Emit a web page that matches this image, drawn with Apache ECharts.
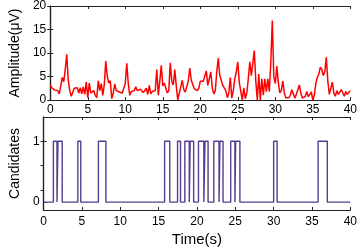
<!DOCTYPE html>
<html>
<head>
<meta charset="utf-8">
<script src="https://cdn.jsdelivr.net/npm/echarts@6/dist/echarts.min.js"></script>
<style>
  html, body { margin: 0; padding: 0; background: #fff; }
  #main { width: 360px; height: 251px; }
</style>
</head>
<body>
<div id="main"></div>
<script>
// amplitude samples, one every 0.2 s from 0 to 40 s
var sampleStep = 0.2;
var amplitude = [
  3.2, 2.6, 2.2, 2.1, 2.0, 2.0, 1.3, 3.0, 4.8, 3.9,
  6.5, 9.7, 4.2, 2.0, 0.8, 0.4, 2.5, 2.7, 2.6, 1.5,
  2.6, 1.3, 2.8, 1.2, 3.8, 0.5, 3.6, 1.5, 1.2, 2.0,
  1.0, 0.5, 4.1, 2.0, 3.5, 1.0, 3.2, 8.3, 5.0, 3.6,
  4.1, 0.3, 1.5, 3.4, 2.0, 1.8, 1.7, 1.6, 1.5, 1.5,
  3.5, 7.8, 3.5, 1.0, 1.8, 2.1, 2.0, 2.8, 2.0, 1.7,
  2.3, 2.3, 1.6, 1.3, 2.5, 1.2, 3.1, 1.3, 1.8, 1.5,
  2.0, 6.5, 1.0, 4.0, 7.4, 3.0, 3.6, 4.0, 1.5, 2.0,
  7.9, 4.0, 3.2, 6.5, 3.0, 0.0, 1.5, 2.8, 4.2, 2.2,
  1.7, 2.0, 4.0, 6.8, 4.2, 3.9, 2.4, 2.1, 2.0, 2.5,
  4.0, 4.3, 4.0, 4.2, 6.2, 3.1, 3.5, 6.0, 2.5, 1.3,
  2.0, 6.0, 8.9, 5.2, 5.2, 3.1, 3.4, 2.0, 0.5, 1.5,
  4.8, 0.4, 2.0, 4.5, 6.0, 8.1, 3.7, 3.7, 0.0, 2.6,
  0.3, 1.5, 4.5, 8.1, 5.2, 5.5, 10.5, 4.0, 0.0, 5.5,
  0.0, 4.5, 1.0, 4.5, 1.8, 4.5, 1.8, 8.0, 16.9, 5.0,
  3.5, 7.2, 3.7, 1.5, 2.0, 4.0, 1.5, 0.5, 0.4, 0.5,
  1.0, 2.2, 1.3, 0.4, 1.2, 2.2, 3.2, 1.5, 0.4, 0.5,
  0.8, 1.8, 0.7, 1.2, 1.7, 0.0, 1.0, 3.5, 4.8, 5.5,
  7.0, 6.5, 5.2, 6.0, 9.1, 4.0, 1.2, 1.5, 3.8, 1.5,
  0.8, 2.0, 1.2, 1.0, 2.2, 1.5, 0.8, 1.8, 1.2, 1.0,
  2.0
];

// candidate windows (s): value is 1 between start and end, 0 elsewhere
var candStart = [1.28, 1.88, 4.47, 7.15, 15.78, 17.47, 18.42, 19.12, 20.2, 21.05, 22.2, 23.0, 24.4, 25.05, 30.0, 35.8];
var candEnd   = [1.75, 2.43, 4.85, 8.13, 16.46, 17.86, 19.0, 19.57, 20.9, 21.45, 22.88, 23.4, 24.95, 25.6, 30.45, 37.0];

var ampTicks = [0, 5, 10, 15, 20];
var candLabels = [0, 1];
var candRightTicks = [0.2, 0.6, 1];

var ampData = amplitude.map(function (v, i) {
  return [+(i * sampleStep).toFixed(1), v];
});

var candData = [[0, 0]];
for (var i = 0; i < candStart.length; i++) {
  candData.push([candStart[i], 0], [candStart[i], 1], [candEnd[i], 1], [candEnd[i], 0]);
}
candData.push([40, 0]);

var axisCol = '#222';
var font = 'Liberation Sans, Arial, sans-serif';

function xAx(grid, pos, show) {
  return {
    type: 'value', gridIndex: grid, position: pos, min: 0, max: 40, interval: 5,
    axisLine: { show: true, onZero: false, lineStyle: { color: axisCol, width: 1.2 } },
    axisTick: { show: true, inside: true, length: 3, lineStyle: { color: axisCol } },
    axisLabel: { show: show, color: '#000', fontSize: 12, fontFamily: font, margin: grid === 0 ? 4 : 6 },
    splitLine: { show: false }
  };
}

function yRight(grid, min, max, extra) {
  return Object.assign({
    type: 'value', gridIndex: grid, position: 'right', min: min, max: max,
    axisLine: { show: true, lineStyle: { color: axisCol, width: 1.2 } },
    axisTick: { show: true, inside: true, length: 3, lineStyle: { color: axisCol } },
    axisLabel: { show: false },
    splitLine: { show: false }
  }, extra);
}

var myChart = echarts.init(document.getElementById('main'), null, { renderer: 'canvas' });
var option = {
  animation: false,
  backgroundColor: '#fff',
  grid: [
    { left: 37, right: 9, top: 6, height: 94 },
    { left: 37, right: 9, top: 117, height: 93 }
  ],
  xAxis: [
    xAx(0, 'bottom', true),
    xAx(0, 'top', false),
    Object.assign(xAx(1, 'bottom', true), {
      name: 'Time(s)', nameLocation: 'middle', nameGap: 22,
      nameTextStyle: { color: '#000', fontSize: 15, fontFamily: font }
    }),
    xAx(1, 'top', false)
  ],
  yAxis: [
    {
      type: 'value', gridIndex: 0, position: 'left', min: 0, max: 20, interval: 5,
      name: 'Amplitude(μV)', nameLocation: 'middle', nameGap: 20,
      nameTextStyle: { color: '#000', fontSize: 14, fontFamily: font },
      axisLine: { show: true, lineStyle: { color: axisCol, width: 1.2 } },
      axisTick: { show: true, inside: true, length: 3, lineStyle: { color: axisCol } },
      axisLabel: { color: '#000', fontSize: 12, fontFamily: font, margin: 4 },
      splitLine: { show: false }
    },
    yRight(0, 0, 20, { interval: 5 }),
    {
      type: 'value', gridIndex: 1, position: 'left', min: -0.13, max: 1.4,
      name: 'Candidates', nameLocation: 'middle', nameGap: 20,
      nameTextStyle: { color: '#000', fontSize: 14, fontFamily: font },
      axisLine: { show: true, lineStyle: { color: axisCol, width: 1.2 } },
      axisTick: { show: true, inside: true, length: 3, customValues: candLabels, lineStyle: { color: axisCol } },
      axisLabel: { color: '#000', fontSize: 12, fontFamily: font, margin: 4, customValues: candLabels },
      splitLine: { show: false }
    },
    yRight(1, -0.13, 1.4, {
      axisTick: { show: true, inside: true, length: 3, customValues: candRightTicks, lineStyle: { color: axisCol } }
    })
  ],
  series: [
    {
      type: 'line', xAxisIndex: 0, yAxisIndex: 0, data: ampData,
      showSymbol: false, symbol: 'none',
      lineStyle: { color: '#ff0000', width: 1.5 }
    },
    {
      type: 'line', xAxisIndex: 2, yAxisIndex: 2, data: candData,
      showSymbol: false, symbol: 'none',
      lineStyle: { color: '#553c8f', width: 1.4 }
    }
  ]
};
myChart.setOption(option);
</script>
</body>
</html>
